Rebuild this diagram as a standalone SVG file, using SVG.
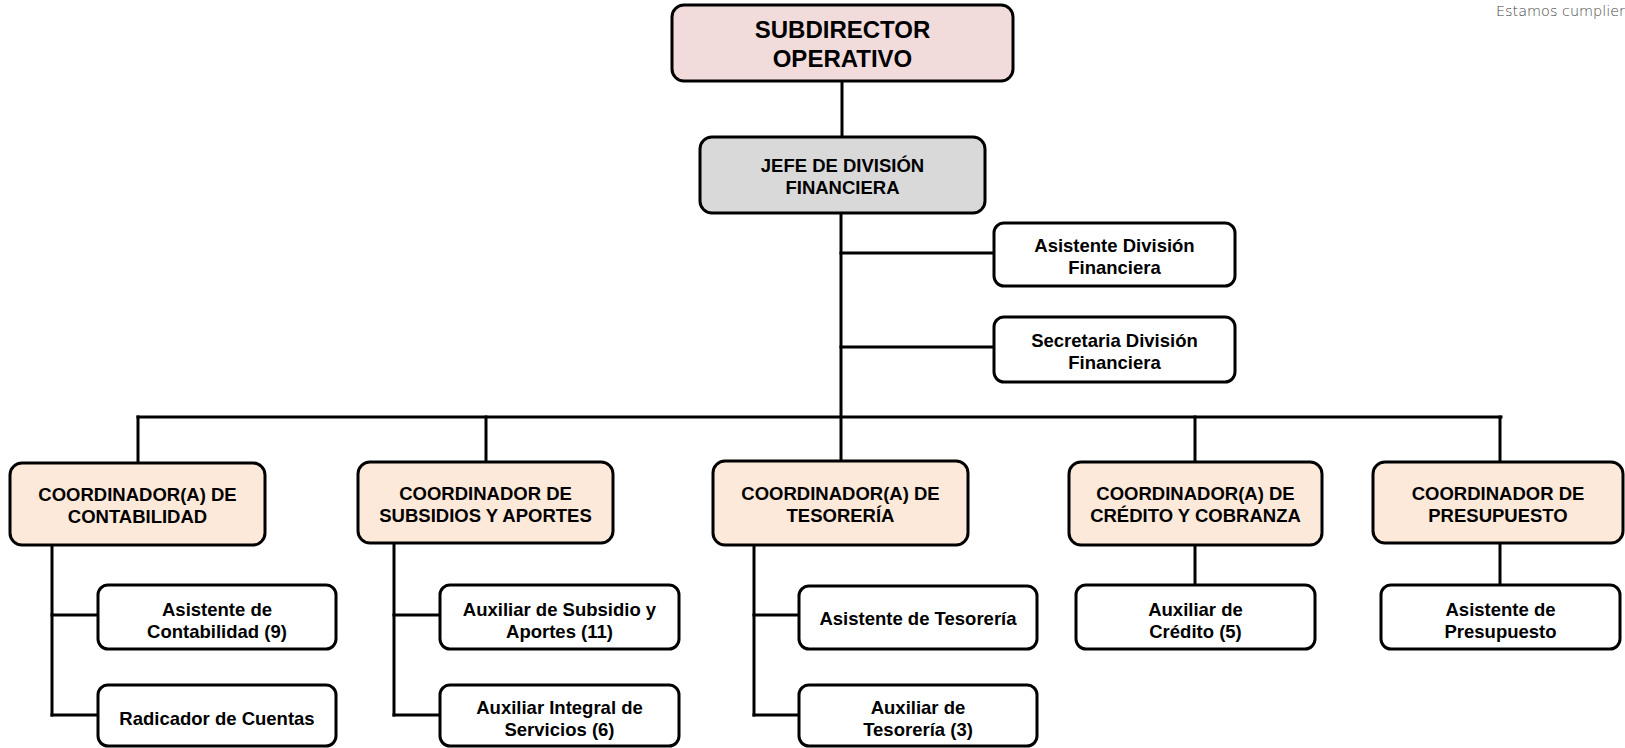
<svg xmlns="http://www.w3.org/2000/svg" width="1625" height="748" viewBox="0 0 1625 748">
<style>
.box{stroke:#000;stroke-width:3;fill:#fff}
.sub{fill:#f2dcdb}
.jefe{fill:#d9d9d9}
.coord{fill:#fde9d9}
.t{font-family:"Liberation Sans",Arial,sans-serif;font-weight:bold;font-size:18.5px;fill:#000;text-anchor:middle}
.big{font-size:24px}
.conn line{stroke:#000;stroke-width:3;stroke-linecap:square}
.tag{font-family:"DejaVu Sans",Lato,sans-serif;font-weight:200;font-size:14px;fill:#444}
</style>
<rect width="1625" height="748" fill="#fff"/>
<text class="tag" x="1496" y="16" textLength="129" lengthAdjust="spacingAndGlyphs">Estamos cumplier</text>
<g id="connectors" class="conn">
<line x1="842" y1="81" x2="842" y2="137"/>
<line x1="841" y1="213" x2="841" y2="461"/>
<line x1="841" y1="253" x2="994" y2="253"/>
<line x1="841" y1="347" x2="994" y2="347"/>
<line x1="138" y1="417" x2="1501" y2="417"/>
<line x1="138" y1="417" x2="138" y2="463"/>
<line x1="486" y1="417" x2="486" y2="462"/>
<line x1="1195" y1="417" x2="1195" y2="462"/>
<line x1="1500" y1="417" x2="1500" y2="462"/>
<line x1="52" y1="545" x2="52" y2="715"/>
<line x1="52" y1="615" x2="98" y2="615"/>
<line x1="52" y1="715" x2="98" y2="715"/>
<line x1="394" y1="543" x2="394" y2="715"/>
<line x1="394" y1="615" x2="440" y2="615"/>
<line x1="394" y1="715" x2="440" y2="715"/>
<line x1="754" y1="545" x2="754" y2="715"/>
<line x1="754" y1="615" x2="799" y2="615"/>
<line x1="754" y1="715" x2="799" y2="715"/>
<line x1="1195" y1="545" x2="1195" y2="585"/>
<line x1="1500" y1="543" x2="1500" y2="585"/>
</g>
<g id="subdirector">
<rect class="box sub" x="672" y="5" width="341" height="76" rx="12"/>
<text class="t big" x="842.5" y="38">SUBDIRECTOR</text>
<text class="t big" x="842.5" y="67">OPERATIVO</text>
</g>
<g id="jefe">
<rect class="box jefe" x="700" y="137" width="285" height="76" rx="12"/>
<text class="t" x="842.5" y="172">JEFE DE DIVISIÓN</text>
<text class="t" x="842.5" y="194">FINANCIERA</text>
</g>
<g id="asistente-div">
<rect class="box" x="994" y="223" width="241" height="63" rx="10"/>
<text class="t" x="1114.5" y="252">Asistente División</text>
<text class="t" x="1114.5" y="273.5">Financiera</text>
</g>
<g id="secretaria-div">
<rect class="box" x="994" y="317" width="241" height="65" rx="10"/>
<text class="t" x="1114.5" y="347">Secretaria División</text>
<text class="t" x="1114.5" y="368.5">Financiera</text>
</g>
<g id="coord-contabilidad">
<rect class="box coord" x="10" y="463" width="255" height="82" rx="12"/>
<text class="t" x="137.5" y="501">COORDINADOR(A) DE</text>
<text class="t" x="137.5" y="523">CONTABILIDAD</text>
</g>
<g id="coord-subsidios">
<rect class="box coord" x="358" y="462" width="255" height="81" rx="12"/>
<text class="t" x="485.5" y="500">COORDINADOR DE</text>
<text class="t" x="485.5" y="522">SUBSIDIOS Y APORTES</text>
</g>
<g id="coord-tesoreria">
<rect class="box coord" x="713" y="461" width="255" height="84" rx="12"/>
<text class="t" x="840.5" y="500">COORDINADOR(A) DE</text>
<text class="t" x="840.5" y="522">TESORERÍA</text>
</g>
<g id="coord-credito">
<rect class="box coord" x="1069" y="462" width="253" height="83" rx="12"/>
<text class="t" x="1195.5" y="500">COORDINADOR(A) DE</text>
<text class="t" x="1195.5" y="522">CRÉDITO Y COBRANZA</text>
</g>
<g id="coord-presupuesto">
<rect class="box coord" x="1373" y="462" width="250" height="81" rx="12"/>
<text class="t" x="1498" y="500">COORDINADOR DE</text>
<text class="t" x="1498" y="522">PRESUPUESTO</text>
</g>
<g id="asistente-contabilidad">
<rect class="box" x="98" y="585" width="238" height="64" rx="10"/>
<text class="t" x="217" y="616">Asistente de</text>
<text class="t" x="217" y="638">Contabilidad (9)</text>
</g>
<g id="radicador">
<rect class="box" x="98" y="685" width="238" height="61" rx="10"/>
<text class="t" x="217" y="724.5">Radicador de Cuentas</text>
</g>
<g id="auxiliar-subsidio">
<rect class="box" x="440" y="585" width="239" height="64" rx="10"/>
<text class="t" x="559.5" y="616">Auxiliar de Subsidio y</text>
<text class="t" x="559.5" y="638">Aportes (11)</text>
</g>
<g id="auxiliar-integral">
<rect class="box" x="440" y="685" width="239" height="61" rx="10"/>
<text class="t" x="559.5" y="714">Auxiliar Integral de</text>
<text class="t" x="559.5" y="736">Servicios (6)</text>
</g>
<g id="asistente-tesoreria">
<rect class="box" x="799" y="586" width="238" height="63" rx="10"/>
<text class="t" x="918" y="625">Asistente de Tesorería</text>
</g>
<g id="auxiliar-tesoreria">
<rect class="box" x="799" y="685" width="238" height="61" rx="10"/>
<text class="t" x="918" y="714">Auxiliar de</text>
<text class="t" x="918" y="736">Tesorería (3)</text>
</g>
<g id="auxiliar-credito">
<rect class="box" x="1076" y="585" width="239" height="64" rx="10"/>
<text class="t" x="1195.5" y="616">Auxiliar de</text>
<text class="t" x="1195.5" y="638">Crédito (5)</text>
</g>
<g id="asistente-presupuesto">
<rect class="box" x="1381" y="585" width="239" height="64" rx="10"/>
<text class="t" x="1500.5" y="616">Asistente de</text>
<text class="t" x="1500.5" y="638">Presupuesto</text>
</g>
</svg>
